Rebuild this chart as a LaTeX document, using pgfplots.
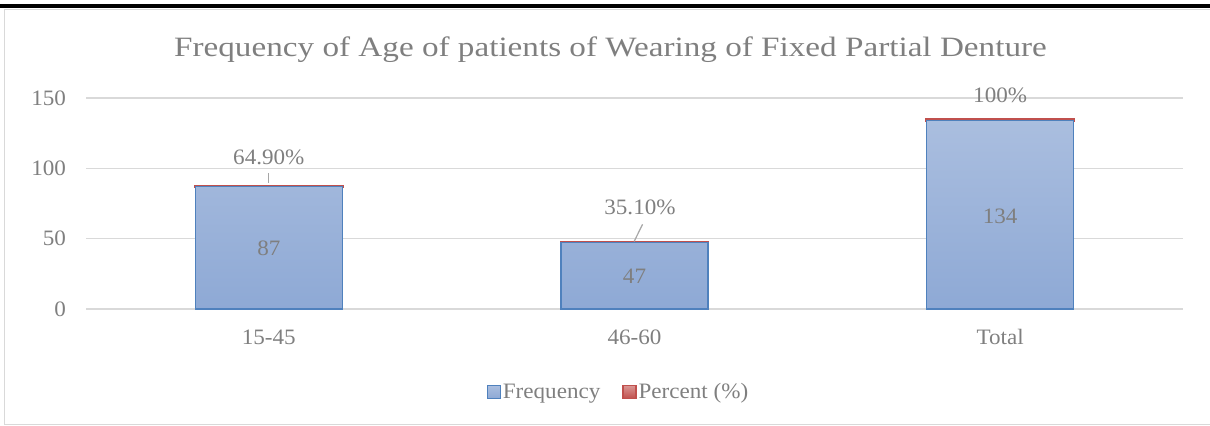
\documentclass[border=0pt]{standalone}
\usepackage{pgfplots}
\pgfplotsset{compat=1.18}
\usepackage{fontspec}
\setmainfont{Liberation Serif}[FakeStretch=1.05]
\newfontfamily\titlefont{Liberation Serif}[FakeStretch=1.185]
\definecolor{txt}{HTML}{7F7F7F}
\definecolor{gridc}{HTML}{D9D9D9}
\definecolor{bbord}{HTML}{4F81BD}
\definecolor{btop}{HTML}{AABEDF}
\definecolor{bbot}{HTML}{8EA9D5}
\definecolor{rbord}{HTML}{C0504D}
\definecolor{rtop}{HTML}{DA9694}
\definecolor{leader}{HTML}{A6A6A6}
\newcommand{\lab}{\fontsize{22bp}{26bp}\selectfont}
\begin{document}
\begin{tikzpicture}
\path[use as bounding box] (0bp,0bp) rectangle (1210bp,426bp);
\fill[black] (0bp,418bp) rectangle (1210bp,421.5bp);
\draw[gridc, line width=1.3bp] (4.6bp,1.6bp) rectangle (1220bp,416.6bp);
\node[anchor=base, text=txt, inner sep=0pt, font=\titlefont\fontsize{28bp}{32bp}\selectfont] at (610.5bp,369bp) {Frequency of Age of patients of Wearing of Fixed Partial Denture};
\begin{axis}[
  at={(86bp,117bp)}, anchor=south west,
  scale only axis, width=1097bp, height=211bp,
  clip=false,
  ybar stacked, bar width=147bp,
  xmin=-0.5, xmax=2.5, ymin=0, ymax=150,
  xtick={0,1,2}, xticklabels={15-45,46-60,Total},
  ytick={0,50,100,150},
  /pgf/number format/assume math mode=true,
  axis line style={draw=none},
  tick style={draw=none},
  major tick length=0pt,
  ymajorgrids,
  grid style={gridc, line width=1.2bp},
  tick label style={text=txt, font=\lab},
  yticklabel style={xshift=-16.5bp},
  xticklabel style={anchor=base, yshift=-35.5bp},
  legend columns=2,
  legend style={draw=none, fill=none, at={(0.4854,-0.393)}, anchor=center,
    font=\lab, text=txt, inner sep=0pt,
    nodes={inner sep=2bp},
    /tikz/every even column/.append style={column sep=20bp}},
  legend image code/.code={\draw[#1, line width=1.2bp] (0bp,-6.5bp) rectangle (13bp,6.5bp);},
]
\addplot+[draw=bbord, line width=1.2bp, shading=axis, top color=btop, bottom color=bbot]
  coordinates {(0,87) (1,47) (2,134)};
\addlegendentry{Frequency}
\addplot+[draw=rbord, line width=2.4bp, shading=axis, top color=rtop, bottom color=rbord]
  coordinates {(0,0.649) (1,0.351) (2,1.0)};
\addlegendentry{Percent (\%)}
\coordinate (fa) at (axis cs:0,43.5);
\coordinate (fb) at (axis cs:1,23.5);
\coordinate (fc) at (axis cs:2,66);
\coordinate (l1a) at (axis cs:0,96.7);
\coordinate (l1b) at (axis cs:0,89.3);
\coordinate (l2a) at (axis cs:1.022,60.2);
\coordinate (l2b) at (axis cs:0.999,48.0);
\coordinate (pa) at (axis cs:0,102.4);
\coordinate (pb) at (axis cs:1.015,67.5);
\coordinate (pc) at (axis cs:2,146.5);
\end{axis}
\node[anchor=center, text=txt, font=\lab, inner sep=0pt] at (fa) {87};
\node[anchor=center, text=txt, font=\lab, inner sep=0pt] at (fb) {47};
\node[anchor=center, text=txt, font=\lab, inner sep=0pt] at (fc) {134};
\draw[leader, line width=1.2bp] (l1a) -- (l1b);
\draw[leader, line width=1.2bp] (l2a) -- (l2b);
\node[anchor=base, text=txt, font=\lab, inner sep=0pt] at (pa) {64.90\%};
\node[anchor=base, text=txt, font=\lab, inner sep=0pt] at (pb) {35.10\%};
\node[anchor=base, text=txt, font=\lab, inner sep=0pt] at (pc) {100\%};
\end{tikzpicture}
\end{document}
